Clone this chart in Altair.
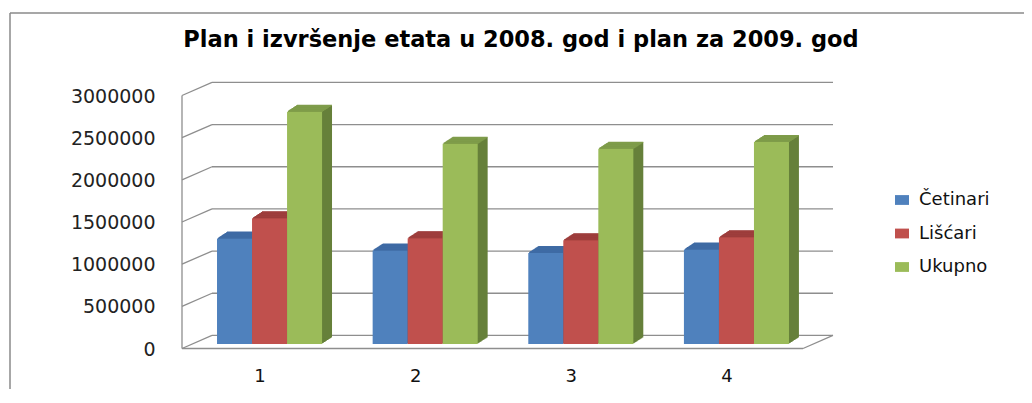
import altair as alt
import pandas as pd

groups = ["1", "2", "3", "4"]
series = ["Četinari", "Lišćari", "Ukupno"]
cetinari = [1250000, 1110000, 1080000, 1120000]
liscari = [1490000, 1255000, 1230000, 1265000]
ukupno = [2755000, 2375000, 2315000, 2395000]
ticks = [0, 500000, 1000000, 1500000, 2000000, 2500000, 3000000]

front_colors = ["#4f81bd", "#c0504d", "#9bbb59"]
top_colors = ["#3f6ba5", "#9e3e3c", "#7f9c4a"]
side_colors = ["#35598a", "#86332f", "#66803a"]
title = "Plan i izvršenje etata u 2008. god i plan za 2009. god"

rows = []
for s, vals in zip(series, [cetinari, liscari, ukupno]):
    for g, v in zip(groups, vals):
        rows.append({"group": g, "series": s, "value": v})
df = pd.DataFrame(rows)
tick_df = pd.DataFrame({"v": ticks})
one = pd.DataFrame({"a": [0]})

W, H = 642, 253
BW = 105  # group band width in px
FONT = "DejaVu Sans"
GRID = "#8e8e8e"
BACK = -8.6
FRONT = 4.5
DEPTH_X = 10
DEPTH_Y = 0.65

yscale = alt.Scale(domain=[0, 3000000], nice=False, zero=True)
xscale = alt.Scale(paddingInner=0.325, paddingOuter=0.225)
yaxis = alt.Axis(title=None, values=ticks, format="d", domain=False, ticks=False, grid=False,
                 labelPadding=27, labelOffset=5, labelFontSize=19, labelFont=FONT,
                 labelColor="#222")
xaxis = alt.Axis(title=None, labelAngle=0, domain=False, ticks=False, grid=False,
                 labelPadding=23, labelOffset=-9.5, labelFontSize=18, labelFont=FONT,
                 labelColor="#111")

# back wall grid lines
back_grid = alt.Chart(tick_df).mark_rule(color=GRID, strokeWidth=1.3, yOffset=BACK).encode(
    y=alt.Y("v:Q", scale=yscale, axis=yaxis, title=None),
    x=alt.value(30), x2=alt.value(W + 9),
)
# side wall slanted lines
side_grid = alt.Chart(tick_df).mark_rule(color=GRID, strokeWidth=1.3, yOffset=FRONT, y2Offset=BACK).encode(
    y=alt.Y("v:Q", scale=yscale, axis=yaxis, title=None), y2="v:Q",
    x=alt.value(0), x2=alt.value(30),
)
left_edge = alt.Chart(one).mark_rule(color=GRID, strokeWidth=1.3, yOffset=FRONT, y2Offset=FRONT).encode(
    y=alt.datum(3000000, scale=yscale, axis=yaxis, title=None), y2=alt.datum(0), x=alt.value(0)
)
floor_front = alt.Chart(one).mark_rule(color=GRID, strokeWidth=1.3, yOffset=FRONT).encode(
    y=alt.datum(0, scale=yscale, axis=yaxis, title=None), x=alt.value(0), x2=alt.value(W - 21)
)
floor_right = alt.Chart(one).mark_rule(color=GRID, strokeWidth=1.3, yOffset=FRONT, y2Offset=BACK).encode(
    y=alt.datum(0, scale=yscale, axis=yaxis, title=None), y2=alt.datum(0), x=alt.value(W - 21), x2=alt.value(W + 9)
)


def depth_layer(k, colors, top_only):
    dy = -DEPTH_Y * k
    if top_only:
        mark = alt.Chart(df).mark_bar(yOffset=dy - 0.5, y2Offset=-DEPTH_Y * (k - 1))
        enc_y2 = alt.Y2("value:Q")
    else:
        mark = alt.Chart(df).mark_bar(yOffset=dy, y2Offset=dy)
        enc_y2 = alt.Y2Datum(0)
    return mark.encode(
        x=alt.X("group:N", scale=xscale, sort=groups, axis=xaxis, title=None),
        xOffset=alt.XOffset("series:N", sort=series,
                            scale=alt.Scale(range=[k, BW + k], paddingInner=0, paddingOuter=0)),
        y=alt.Y("value:Q", scale=yscale, axis=yaxis, title=None),
        y2=enc_y2,
        color=alt.Color("series:N", scale=alt.Scale(domain=series, range=colors), legend=None),
    )


side_layers = [depth_layer(k, side_colors, False) for k in range(1, DEPTH_X + 1)]
top_layers = [depth_layer(k, top_colors, True) for k in range(1, DEPTH_X + 1)]

front_bars = alt.Chart(df).mark_bar().encode(
    x=alt.X("group:N", scale=xscale, sort=groups, axis=xaxis, title=None),
    xOffset=alt.XOffset("series:N", sort=series, scale=alt.Scale(paddingInner=0, paddingOuter=0)),
    y=alt.Y("value:Q", scale=yscale, axis=yaxis, title=None),
    color=alt.Color("series:N", scale=alt.Scale(domain=series, range=front_colors),
                    legend=alt.Legend(title=None, orient="none", legendX=711, legendY=100,
                                      labelFont=FONT, labelFontSize=18, labelColor="#111",
                                      symbolType="M-1,-0.7L1,-0.7L1,0.7L-1,0.7Z", symbolSize=196,
                                      symbolStrokeWidth=0, labelOffset=8, rowPadding=15.5, padding=0)),
)

frame_top = alt.Chart(one).mark_rule(color="#8a8a8a", strokeWidth=1.5).encode(
    x=alt.value(-172), x2=alt.value(860), y=alt.value(-78)
)
frame_left = alt.Chart(one).mark_rule(color="#8a8a8a", strokeWidth=1.5).encode(
    x=alt.value(-172), y=alt.value(-78), y2=alt.value(330)
)

chart = alt.layer(
    back_grid, side_grid, left_edge, floor_front, floor_right,
    *side_layers, *top_layers, front_bars, frame_top, frame_left
).resolve_scale(
    xOffset="independent", color="independent"
).properties(
    width=W, height=H,
    autosize=alt.AutoSizeParams(type="none"),
    padding={"left": 174, "top": 83, "right": 200, "bottom": 45},
    title=alt.TitleParams(title, font=FONT, fontSize=22.5, fontWeight="bold", color="#000",
                          anchor="middle", frame="group", dx=18, offset=0, dy=39),
).configure_view(stroke=None)

chart.save("out.html", embed_options={"renderer": "svg", "actions": False})
